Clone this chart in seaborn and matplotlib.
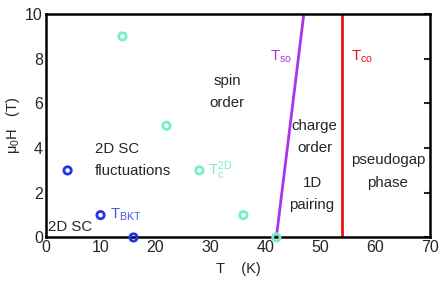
import numpy as np
import pandas as pd
import matplotlib
matplotlib.use("Agg")
import matplotlib.pyplot as plt
import seaborn as sns

# data
bkt_T = [4, 10, 16]
bkt_H = [3, 1, 0]
tc2d_T = [14, 22, 28, 36, 42]
tc2d_H = [9, 5, 3, 1, 0]
tso_T = [42, 47]
tso_H = [0, 10]
tco_T = [54, 54]
tco_H = [0, 10]

blue = "#2233ee"
cyan = "#77eecc"
purple = "#aa33ee"
red = "#ee1111"

sns.set_style("white")
plt.rcParams["font.family"] = ["Liberation Sans", "DejaVu Sans"]
plt.rcParams["mathtext.fontset"] = "custom"
plt.rcParams["mathtext.rm"] = "Liberation Sans"
plt.rcParams["mathtext.it"] = "Liberation Sans"

fig, ax = plt.subplots(figsize=(4.43, 2.81), dpi=100)
fig.subplots_adjust(left=0.103, right=0.971, bottom=0.155, top=0.95)

bkt = pd.DataFrame({"T": bkt_T, "H": bkt_H})
tc = pd.DataFrame({"T": tc2d_T, "H": tc2d_H})

sns.lineplot(x=tso_T, y=tso_H, color=purple, lw=2, ax=ax,
             estimator=None, sort=False)
sns.lineplot(x=tco_T, y=tco_H, color=red, lw=2, ax=ax,
             estimator=None, sort=False)
sns.scatterplot(data=bkt, x="T", y="H", marker="o", s=28, facecolors="none",
                edgecolor=blue, linewidth=2, ax=ax, clip_on=False, zorder=5)
sns.scatterplot(data=tc, x="T", y="H", marker="o", s=28, facecolors="none",
                edgecolor=cyan, linewidth=2, ax=ax, clip_on=False, zorder=5)

ax.set_xlim(0, 70)
ax.set_ylim(0, 10)
ax.set_xticks(range(0, 71, 10))
ax.set_yticks(range(0, 11, 2))
ax.tick_params(direction="in", labelsize=11.5, length=4, width=1.5,
               right=True, top=False, pad=2)
for s in ax.spines.values():
    s.set_linewidth(1.8)
    s.set_color("black")

ax.set_xlabel("T    (K)", fontsize=10.5, labelpad=5)
ax.set_ylabel(r"$\mu_0$H   (T)", fontsize=10.5, labelpad=2)

fs = 10.8
ax.text(33, 6.5, "spin\norder", fontsize=fs, ha="center", va="center", linespacing=1.75)
ax.text(49, 4.5, "charge\norder", fontsize=fs, ha="center", va="center", linespacing=1.75)
ax.text(48.5, 1.95, "1D\npairing", fontsize=fs, ha="center", va="center", linespacing=1.75)
ax.text(62.3, 2.95, "pseudogap\nphase", fontsize=fs, ha="center", va="center", linespacing=1.75)
ax.text(9, 3.45, "2D SC\nfluctuations", fontsize=fs, ha="left", va="center", linespacing=1.75)
ax.text(0.5, 0.45, "2D SC", fontsize=fs, ha="left", va="center")
ax.text(11.8, 1.0, r"T$_{\rm BKT}$", fontsize=fs, color="#4455ee", ha="left", va="center")
ax.text(29.5, 3.0, r"T$_{\rm c}^{\rm 2D}$", fontsize=fs, color=cyan, ha="left", va="center")
ax.text(40.9, 8.1, r"T$_{\rm so}$", fontsize=fs, color=purple, ha="left", va="center")
ax.text(55.5, 8.1, r"T$_{\rm co}$", fontsize=fs, color=red, ha="left", va="center")

fig.savefig("out.png", dpi=100)
